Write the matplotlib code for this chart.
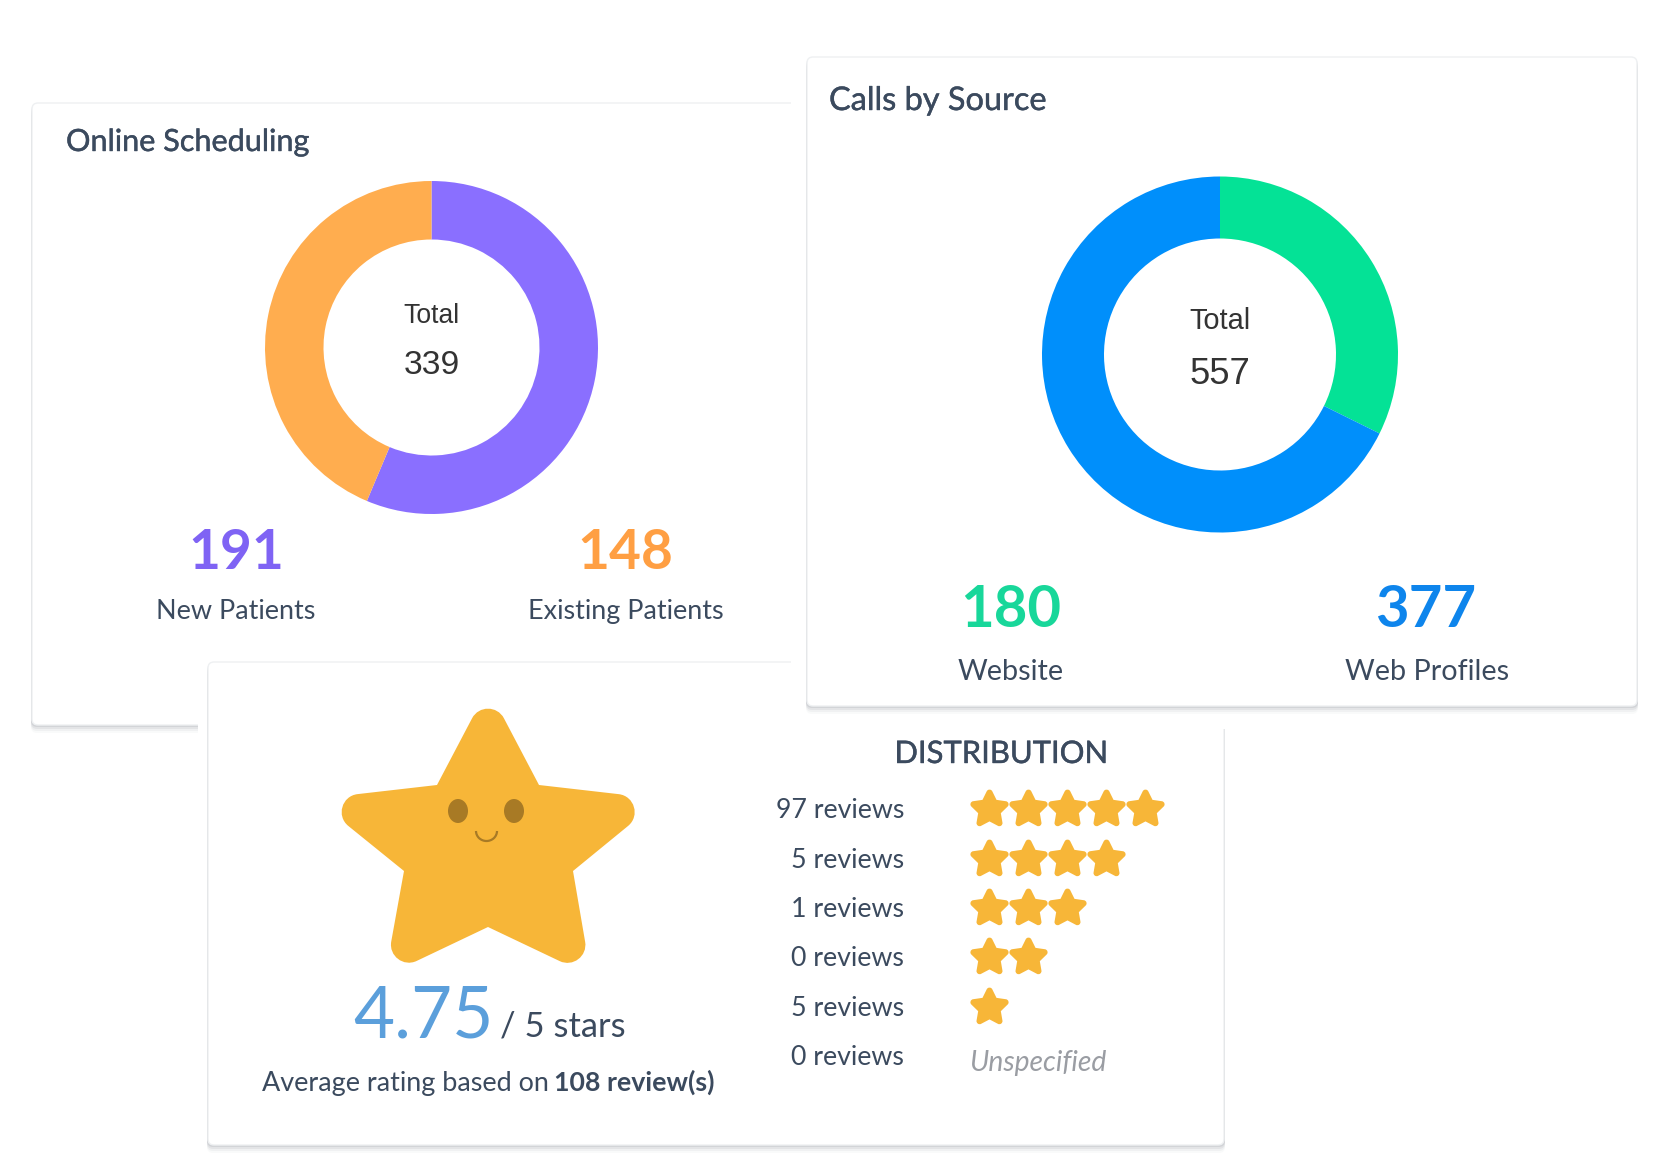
import math
import matplotlib
matplotlib.use("Agg")
import matplotlib.pyplot as plt
import matplotlib.patheffects as pe
from matplotlib.patches import FancyBboxPatch, Rectangle, PathPatch, Ellipse, Arc
from matplotlib.path import Path

W, H = 1662, 1174
FONT = "Lato"
HELV = "Liberation Sans"
DARK = "#3b4a5e"
STAR = "#f7b638"

# data
scheduling_values = [191, 148]
scheduling_labels = ["New Patients", "Existing Patients"]
scheduling_colors = ["#8a6fff", "#ffad4f"]
scheduling_text_colors = ["#7f63f4", "#ff9f43"]
scheduling_total = 339

calls_values = [180, 377]
calls_labels = ["Website", "Web Profiles"]
calls_colors = ["#04e296", "#008ffb"]
calls_text_colors = ["#18d79a", "#0e85ec"]
calls_total = 557

review_counts = [97, 5, 1, 0, 5, 0]
star_levels = [5, 4, 3, 2, 1, 0]
rating = 4.75
rating_max = 5
review_total = 108

fig = plt.figure(figsize=(W / 100, H / 100), dpi=100, facecolor="white")
ax = fig.add_axes([0, 0, 1, 1], zorder=1)
ax.set_xlim(0, W)
ax.set_ylim(H, 0)
ax.axis("off")


def px(size):
    # font size given in pixels
    return size * 0.72


def card(x0, y0, x1, y1, z):
    # soft shadow first, then the white body
    for off, a in [(8, 0.04), (6, 0.07), (4, 0.11), (2, 0.16)]:
        ax.add_patch(FancyBboxPatch((x0 - 1, y0 + off), x1 - x0 + 2, y1 - y0,
                                    boxstyle="round,pad=0,rounding_size=6",
                                    fc="#7d838c", ec="none", alpha=a, zorder=z))
    ax.add_patch(FancyBboxPatch((x0, y0), x1 - x0, y1 - y0,
                                boxstyle="round,pad=0,rounding_size=6",
                                fc="white", ec="#eef0f2", lw=1, zorder=z + 0.1))


def donut(cx, cy, r, inner, values, colors):
    sub = fig.add_axes([(cx - r) / W, 1 - (cy + r) / H, 2 * r / W, 2 * r / H], zorder=2)
    sub.pie(values, colors=colors, startangle=90, counterclock=False, radius=1,
            wedgeprops={"width": 1 - inner / r, "linewidth": 0})
    sub.set_xlim(-1, 1)
    sub.set_ylim(-1, 1)
    sub.patch.set_visible(False)


def star_path(outer, inner, r):
    # five tips filleted with radius r, the notches stay sharp
    verts = []
    codes = []
    for i, p in enumerate(outer):
        a, b = inner[i - 1], inner[i]
        ua = (a[0] - p[0], a[1] - p[1])
        ub = (b[0] - p[0], b[1] - p[1])
        la, lb = math.hypot(*ua), math.hypot(*ub)
        ua, ub = (ua[0] / la, ua[1] / la), (ub[0] / lb, ub[1] / lb)
        theta = math.acos(ua[0] * ub[0] + ua[1] * ub[1])
        d = r / math.tan(theta / 2)
        k = 4 / 3 * math.tan((math.pi - theta) / 4) * r
        start = (p[0] + ua[0] * d, p[1] + ua[1] * d)
        end = (p[0] + ub[0] * d, p[1] + ub[1] * d)
        verts.append(start)
        codes.append(Path.MOVETO if i == 0 else Path.LINETO)
        verts += [(start[0] - ua[0] * k, start[1] - ua[1] * k),
                  (end[0] - ub[0] * k, end[1] - ub[1] * k), end, b]
        codes += [Path.CURVE4, Path.CURVE4, Path.CURVE4, Path.LINETO]
    verts.append(verts[0])
    codes.append(Path.CLOSEPOLY)
    return Path(verts, codes)


def small_star():
    outer = []
    inner = []
    for i in range(5):
        t = math.radians(90 - 72 * i)
        outer.append((math.cos(t), math.sin(t)))
        t -= math.radians(36)
        inner.append((0.5 * math.cos(t), 0.5 * math.sin(t)))
    return star_path(outer, inner, 0.13)


def label(x, y, s, size, color=DARK, ha="center", family=FONT, heavy=False, **kw):
    t = ax.text(x, y, s, fontsize=px(size), color=color, ha=ha, va="baseline",
                family=family, zorder=10, **kw)
    if heavy:
        # Lato has no medium weight here, thicken the regular one
        t.set_path_effects([pe.withStroke(linewidth=0.3, foreground=color)])


# cards, back to front
card(32, 103, 840, 725, 1)
ax.add_patch(Rectangle((198, 700), 12, 45, fc="white", ec="none", zorder=2))
card(208, 662, 1224, 1145, 3)
ax.add_patch(Rectangle((791, 0), 500, 729, fc="white", ec="none", zorder=4))
card(807, 57, 1637, 706, 5)

# Online Scheduling
label(66, 151, "Online Scheduling", 30.6, ha="left", heavy=True)
donut(431.5, 347.5, 166.5, 108, scheduling_values, scheduling_colors)
label(431.5, 323, "Total", 26.5, "#333333", family=HELV)
label(431.5, 374, str(scheduling_total), 33.5, "#333333", family=HELV)
for x, lx, v, name, c in zip([236, 625.5], [235.5, 625.5], scheduling_values,
                             scheduling_labels, scheduling_text_colors):
    label(x, 569, str(v), 55, c, fontweight="bold")
    label(lx, 619, name, 27)

# Calls by Source
label(829, 110, "Calls by Source", 32.5, ha="left", heavy=True)
donut(1220, 354.5, 178, 116, calls_values, calls_colors)
label(1220, 329, "Total", 29, "#333333", family=HELV)
label(1220, 384, str(calls_total), 36.5, "#333333", family=HELV)
for x, lx, v, name, c in zip([1011, 1426], [1011, 1427], calls_values,
                             calls_labels, calls_text_colors):
    label(x, 627, str(v), 58, c, fontweight="bold")
    label(lx, 680, name, 28.7)

# big star with its face
big = star_path([(488, 688), (661, 799), (591, 976), (385, 976), (315, 799)],
                [(539, 785), (573, 871), (488, 927), (404, 871), (437, 785)], 18)
ax.add_patch(PathPatch(big, fc=STAR, ec="none", zorder=6))
for ex in (458, 514):
    ax.add_patch(Ellipse((ex, 811), 20, 24, fc="#a87a25", ec="none", zorder=7))
ax.add_patch(Arc((486.5, 831), 21, 20, theta1=0, theta2=180, ec="#a87a25", lw=1.6, zorder=7))

label(353, 1037, f"{rating:.2f}", 71, "#5b9fdb", ha="left")
label(500, 1036, f"/ {rating_max} stars", 34.5, ha="left")
label(549, 1091, "Average rating based on", 27, ha="right")
label(554, 1091, f"{review_total} review(s)", 26.8, ha="left", fontweight="bold")

# distribution table
label(1001.5, 763, "DISTRIBUTION", 31, heavy=True)
row_y = [808, 857.5, 907, 956, 1005.5, 1055]
marker = small_star()
for y, n, level in zip(row_y, review_counts, star_levels):
    label(904, y + 10, f"{n} reviews", 26.8, ha="right")
    if level == 0:
        label(969, y + 16, "Unspecified", 28.3, "#9a9da3", ha="left", style="italic")
        continue
    xs = [988.5 + 39 * i for i in range(level)]
    ax.plot(xs, [y + 1] * level, ls="none", marker=marker, ms=px(41), mfc=STAR, mec="none", zorder=6)

fig.savefig("out.png", dpi=100)
